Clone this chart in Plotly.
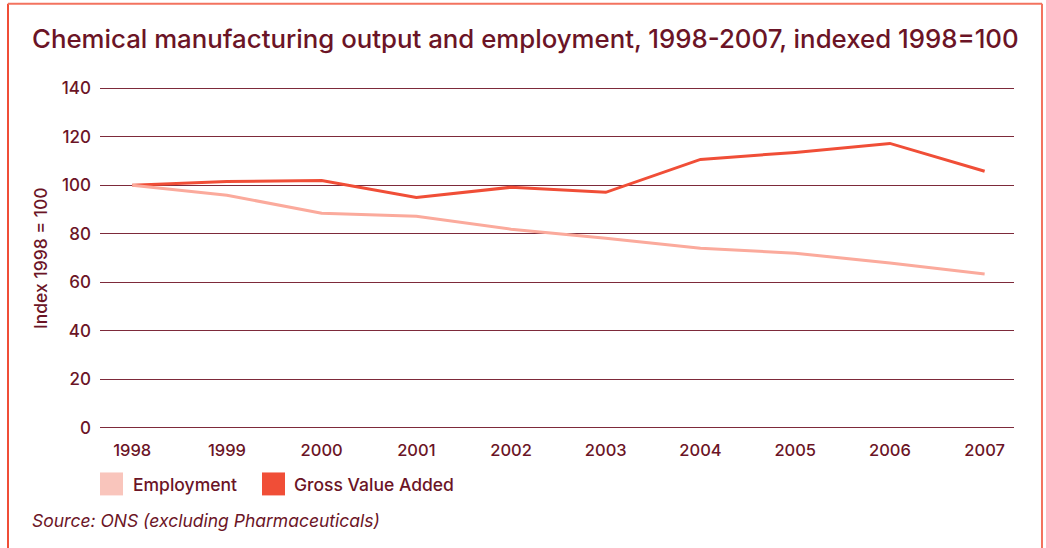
import plotly.graph_objects as go

# Index values, 1998 = 100
years = [1998, 1999, 2000, 2001, 2002, 2003, 2004, 2005, 2006, 2007]
employment = [100, 95.9, 88.5, 87.2, 81.9, 78.2, 74.0, 72.0, 67.9, 63.4]
gross_value_added = [100, 101.6, 102.0, 95.0, 99.2, 97.1, 110.7, 113.6, 117.3, 105.8]
y_ticks = [0, 20, 40, 60, 80, 100, 120, 140]

MAROON = "#6b1426"
GVA_RED = "#f04e37"
EMP_PINK = "#fbaa9c"
EMP_SWATCH = "#f9c5bc"
FRAME = "#f3735f"

W, H = 1046, 548
Y_PAD = 1.0                      # value units of headroom so the 0 and 140 grid lines show
UNIT = 340 / 140                 # pixels per index point
L, R = 100, 32
T, B = 88 - Y_PAD * UNIT, 120 - Y_PAD * UNIT
PW, PH = W - L - R, H - T - B


def px(x):
    return (x - L) / PW


def py(y):
    return (H - B - y) / PH


fig = go.Figure()
fig.add_trace(go.Scatter(x=years, y=gross_value_added, mode="lines", name="Gross Value Added",
                         line=dict(color=GVA_RED, width=3), showlegend=False))
fig.add_trace(go.Scatter(x=years, y=employment, mode="lines", name="Employment",
                         line=dict(color=EMP_PINK, width=3), showlegend=False))

font_main = "Inter, Arial, sans-serif"

fig.update_layout(
    width=W, height=H,
    margin=dict(l=L, r=R, t=T, b=B, autoexpand=False),
    paper_bgcolor="white", plot_bgcolor="white",
    font=dict(family=font_main, color=MAROON, size=16),
    xaxis=dict(range=[1997.66, 2007.31], tickvals=years, ticktext=[str(y) for y in years],
               showgrid=False, zeroline=False, showline=False, ticks="",
               ticklabelstandoff=8, tickfont=dict(size=16.5, color=MAROON, weight=500)),
    yaxis=dict(range=[-Y_PAD, 140 + Y_PAD], tickvals=y_ticks, showgrid=True, gridcolor="#7d2a3a",
               gridwidth=1.3, zeroline=False, showline=False, ticks="", ticklabelstandoff=8,
               tickfont=dict(size=17, color=MAROON, weight=500)),
)

shapes = [
    # frame
    dict(type="line", xref="paper", yref="paper", x0=px(8), x1=px(8), y0=py(3), y1=py(560),
         line=dict(color=GVA_RED, width=2)),
    dict(type="line", xref="paper", yref="paper", x0=px(8), x1=px(1042), y0=py(3), y1=py(3),
         line=dict(color=FRAME, width=2)),
    dict(type="line", xref="paper", yref="paper", x0=px(1042), x1=px(1042), y0=py(3), y1=py(560),
         line=dict(color=FRAME, width=2)),
    # legend swatches
    dict(type="rect", xref="paper", yref="paper", x0=px(100), x1=px(123), y0=py(473), y1=py(496),
         fillcolor=EMP_SWATCH, line=dict(width=0)),
    dict(type="rect", xref="paper", yref="paper", x0=px(262), x1=px(285), y0=py(473), y1=py(496),
         fillcolor=GVA_RED, line=dict(width=0)),
]
fig.update_layout(shapes=shapes)

annotations = [
    dict(text="Chemical manufacturing output and employment, 1998-2007, indexed 1998=100",
         x=px(30), y=py(38), xanchor="left", yanchor="middle",
         font=dict(family=font_main, size=25.8, color=MAROON, weight=500)),
    dict(text="Index 1998 = 100", textangle=-90, x=px(40), y=py(258), xanchor="center", yanchor="middle",
         font=dict(size=17.5, color=MAROON, weight=500)),
    dict(text="Employment", x=px(131), y=py(485), xanchor="left", yanchor="middle",
         font=dict(size=17.5, color=MAROON, weight=500)),
    dict(text="Gross Value Added", x=px(292), y=py(485), xanchor="left", yanchor="middle",
         font=dict(size=17.5, color=MAROON, weight=500)),
    dict(text="<i>Source: ONS (excluding Pharmaceuticals)</i>", x=px(30), y=py(521),
         xanchor="left", yanchor="middle", font=dict(size=17.5, color=MAROON)),
]
for a in annotations:
    a.update(xref="paper", yref="paper", showarrow=False)
fig.update_layout(annotations=annotations)

fig.write_html("out.html")
